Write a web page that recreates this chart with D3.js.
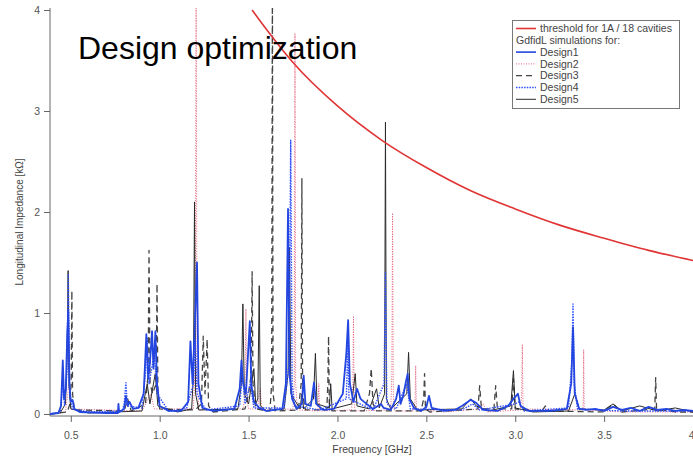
<!DOCTYPE html>
<html>
<head>
<meta charset="utf-8">
<script src="https://cdn.jsdelivr.net/npm/d3@7"></script>
<style>
  body { margin: 0; background: #fff; }
  svg { display: block; font-family: "Liberation Sans", Arial, sans-serif; }
</style>
</head>
<body>
<script>
// impedance spectra, [frequency GHz, impedance kOhm]
const design1 = [[0.383,0.0],[0.43,0.01],[0.445,0.08],[0.455,0.53],[0.462,0.15],[0.472,0.25],[0.48,0.8],[0.486,1.02],[0.492,0.3],[0.5,0.12],[0.51,0.14],[0.52,0.05],[0.55,0.02],[0.7,0.01],[0.765,0.01],[0.768,0.1],[0.772,0.02],[0.8,0.05],[0.81,0.18],[0.82,0.08],[0.83,0.12],[0.85,0.05],[0.88,0.06],[0.91,0.2],[0.925,0.79],[0.935,0.35],[0.945,0.5],[0.957,0.82],[0.965,0.45],[0.976,0.82],[0.985,0.3],[1.0,0.08],[1.05,0.03],[1.12,0.03],[1.16,0.12],[1.173,0.72],[1.185,0.3],[1.2,1.0],[1.21,1.5],[1.218,0.3],[1.24,0.06],[1.3,0.03],[1.42,0.05],[1.45,0.25],[1.46,0.53],[1.47,0.3],[1.485,0.2],[1.507,0.92],[1.515,0.3],[1.53,0.12],[1.56,0.06],[1.6,0.03],[1.69,0.05],[1.71,0.3],[1.722,2.03],[1.73,0.4],[1.745,0.15],[1.77,0.05],[1.8,0.1],[1.81,0.38],[1.82,0.1],[1.85,0.08],[1.868,0.31],[1.88,0.1],[1.92,0.04],[1.98,0.05],[2.03,0.2],[2.05,0.6],[2.06,0.93],[2.07,0.3],[2.09,0.12],[2.11,0.25],[2.13,0.15],[2.15,0.12],[2.2,0.05],[2.245,0.1],[2.26,0.06],[2.3,0.04],[2.33,0.15],[2.345,0.28],[2.355,0.1],[2.37,0.18],[2.385,0.32],[2.395,0.4],[2.405,0.15],[2.43,0.06],[2.47,0.03],[2.5,0.07],[2.515,0.18],[2.53,0.06],[2.6,0.03],[2.66,0.04],[2.7,0.08],[2.75,0.14],[2.78,0.11],[2.82,0.04],[2.9,0.03],[2.96,0.08],[2.99,0.15],[3.015,0.2],[3.03,0.08],[3.08,0.03],[3.2,0.03],[3.29,0.05],[3.315,0.3],[3.325,0.86],[3.335,0.2],[3.36,0.05],[3.4,0.04],[3.45,0.05],[3.5,0.03],[3.55,0.07],[3.6,0.04],[3.65,0.06],[3.7,0.03],[3.75,0.07],[3.8,0.04],[3.85,0.05],[3.9,0.03],[3.95,0.04],[4.0,0.03]];

const design2 = [[0.383,0.0],[0.47,0.02],[0.49,0.3],[0.5,0.05],[0.9,0.03],[0.95,0.2],[0.97,0.05],[1.19,0.05],[1.2,0.5],[1.205,4.3],[1.21,0.4],[1.22,0.04],[1.47,0.05],[1.48,0.2],[1.485,1.04],[1.49,0.15],[1.5,0.05],[1.55,0.05],[1.565,0.25],[1.575,0.04],[1.75,0.05],[1.757,0.3],[1.761,3.77],[1.765,0.3],[1.775,0.04],[1.89,0.03],[1.895,0.3],[1.9,0.03],[2.08,0.04],[2.087,0.3],[2.09,0.97],[2.094,0.1],[2.1,0.03],[2.3,0.04],[2.306,0.4],[2.31,1.99],[2.314,0.2],[2.32,0.03],[2.43,0.03],[2.437,0.15],[2.44,0.48],[2.444,0.05],[2.6,0.02],[2.8,0.05],[2.82,0.1],[2.84,0.02],[3.03,0.04],[3.036,0.2],[3.04,0.69],[3.044,0.05],[3.38,0.04],[3.383,0.15],[3.385,0.64],[3.388,0.04],[3.6,0.02],[4.0,0.02]];

const design3 = [[0.383,0.0],[0.48,0.02],[0.495,0.1],[0.502,0.3],[0.506,1.22],[0.51,0.2],[0.52,0.04],[0.8,0.03],[0.82,0.15],[0.84,0.03],[0.92,0.1],[0.935,0.4],[0.94,1.62],[0.946,0.3],[0.96,0.2],[0.98,0.3],[0.985,1.29],[0.99,0.2],[1.0,0.05],[1.2,0.04],[1.235,0.1],[1.245,0.77],[1.255,0.2],[1.267,0.74],[1.275,0.08],[1.3,0.02],[1.48,0.05],[1.5,0.2],[1.515,0.4],[1.52,1.41],[1.525,0.3],[1.54,0.05],[1.62,0.03],[1.63,0.3],[1.634,4.3],[1.638,0.2],[1.65,0.03],[1.78,0.04],[1.796,0.3],[1.8,2.33],[1.804,0.2],[1.82,0.04],[1.94,0.04],[1.946,0.3],[1.95,0.77],[1.954,0.1],[1.97,0.03],[2.15,0.03],[2.18,0.2],[2.19,0.45],[2.2,0.1],[2.22,0.03],[2.47,0.03],[2.485,0.15],[2.49,0.4],[2.495,0.05],[2.52,0.02],[2.79,0.05],[2.8,0.28],[2.81,0.05],[2.88,0.05],[2.89,0.28],[2.9,0.05],[2.98,0.05],[2.99,0.35],[3.0,0.05],[3.15,0.03],[3.17,0.08],[3.19,0.03],[3.5,0.02],[3.55,0.1],[3.6,0.02],[3.785,0.05],[3.79,0.36],[3.795,0.05],[3.9,0.02],[4.0,0.02]];

const design4 = [[0.383,0.0],[0.44,0.02],[0.455,0.3],[0.465,0.08],[0.478,0.4],[0.486,1.38],[0.494,0.2],[0.51,0.05],[0.6,0.02],[0.79,0.03],[0.8,0.1],[0.81,0.31],[0.818,0.08],[0.9,0.06],[0.92,0.4],[0.93,0.75],[0.94,0.3],[0.97,0.6],[0.985,0.2],[1.05,0.03],[1.15,0.05],[1.19,0.3],[1.2,0.74],[1.21,0.2],[1.26,0.04],[1.45,0.08],[1.465,0.4],[1.48,0.1],[1.51,0.3],[1.53,0.06],[1.7,0.06],[1.728,0.5],[1.737,2.71],[1.745,0.3],[1.76,0.08],[1.9,0.04],[2.05,0.15],[2.058,0.7],[2.065,0.15],[2.2,0.04],[2.262,0.3],[2.27,1.4],[2.278,0.1],[2.33,0.05],[2.39,0.3],[2.41,0.05],[2.7,0.04],[2.76,0.1],[2.8,0.04],[3.0,0.1],[3.02,0.12],[3.05,0.03],[3.3,0.06],[3.318,0.5],[3.325,1.09],[3.332,0.3],[3.35,0.05],[3.6,0.03],[4.0,0.03]];

const design5 = [[0.383,0.0],[0.44,0.01],[0.47,0.1],[0.48,0.6],[0.485,1.42],[0.49,0.3],[0.5,0.05],[0.6,0.01],[0.9,0.03],[0.93,0.3],[0.945,0.1],[0.975,0.4],[0.99,0.08],[1.1,0.02],[1.18,0.05],[1.19,0.4],[1.196,2.1],[1.202,0.2],[1.22,0.04],[1.44,0.05],[1.46,0.3],[1.468,1.09],[1.476,0.2],[1.5,0.1],[1.53,0.45],[1.54,0.1],[1.552,0.15],[1.56,1.27],[1.566,0.08],[1.6,0.03],[1.7,0.05],[1.722,0.4],[1.73,1.65],[1.738,0.2],[1.79,0.05],[1.8,0.2],[1.81,0.05],[1.865,0.15],[1.876,0.6],[1.885,0.1],[1.955,0.06],[1.962,0.3],[1.97,0.05],[2.08,0.1],[2.1,0.4],[2.11,0.08],[2.18,0.05],[2.22,0.25],[2.235,0.06],[2.265,0.2],[2.27,2.89],[2.275,0.15],[2.3,0.05],[2.39,0.2],[2.4,0.61],[2.41,0.15],[2.45,0.04],[2.7,0.05],[2.75,0.15],[2.78,0.08],[2.85,0.03],[2.975,0.08],[2.99,0.43],[3.0,0.06],[3.1,0.02],[3.3,0.03],[3.335,0.2],[3.36,0.05],[3.5,0.04],[3.55,0.1],[3.6,0.03],[3.7,0.08],[3.8,0.03],[3.9,0.06],[4.0,0.02]];

// threshold for 1A / 18 cavities
const thrFreq = [1.52, 1.6, 1.75, 2.0, 2.25, 2.5, 2.75, 3.0, 3.25, 3.5, 3.75, 4.0];
const thrZ = [4.0, 3.81, 3.48, 3.05, 2.71, 2.44, 2.21, 2.03, 1.87, 1.74, 1.62, 1.52];

const xTicks = [0.5, 1.0, 1.5, 2.0, 2.5, 3.0, 3.5, 4.0];
const xTickLabels = ["0.5", "1.0", "1.5", "2.0", "2.5", "3.0", "3.5", "4"];
const yTicks = [0, 1, 2, 3, 4];

const width = 693,
  height = 458;

const svg = d3
  .select("body")
  .append("svg")
  .attr("width", width)
  .attr("height", height)
  .attr("viewBox", [0, 0, width, height]);

const x = d3.scaleLinear().domain([0.383, 4.0]).range([50, 693]);
const y = d3.scaleLinear().domain([0, 4]).range([414, 10]);

svg
  .append("clipPath")
  .attr("id", "plot")
  .append("rect")
  .attr("x", 50)
  .attr("y", 8)
  .attr("width", width - 50)
  .attr("height", 408);

// axes
const xAxis = svg
  .append("g")
  .attr("transform", "translate(0,416)")
  .call(
    d3
      .axisBottom(x)
      .tickValues(xTicks)
      .tickFormat((d, i) => xTickLabels[i])
      .tickSize(6)
      .tickSizeOuter(0)
      .tickPadding(10)
  );

const yAxis = svg
  .append("g")
  .attr("transform", "translate(50,0)")
  .call(d3.axisLeft(y).tickValues(yTicks).tickFormat(d3.format("d")).tickSize(6).tickSizeOuter(0).tickPadding(4));

[xAxis, yAxis].forEach((g) => {
  g.select(".domain").attr("stroke", "#666");
  g.selectAll(".tick line").attr("stroke", "#666");
  g.selectAll(".tick text").attr("fill", "#555").style("font-size", "10.5px");
});
yAxis.select(".domain").attr("d", "M0,416V8");
xAxis.select(".domain").attr("d", "M50,0H693");
// last label sits against the right edge
xAxis.selectAll(".tick text").filter((d) => d === 4).attr("text-anchor", "end").attr("dx", 1);

svg
  .append("text")
  .attr("x", 372)
  .attr("y", 453)
  .attr("text-anchor", "middle")
  .attr("fill", "#444")
  .style("font-size", "10.5px")
  .text("Frequency [GHz]");

svg
  .append("text")
  .attr("transform", "translate(23,222) rotate(-90)")
  .attr("text-anchor", "middle")
  .attr("fill", "#444")
  .style("font-size", "10px")
  .text("Longitudinal Impedance [kΩ]");

// series
const line = d3
  .line()
  .x((d) => x(d[0]))
  .y((d) => y(d[1]));

const series = [
  { data: design2, color: "#e5607e", width: 1, dash: "1,1.5" },
  { data: design3, color: "#444", width: 1.3, dash: "6,4" },
  { data: design5, color: "#2a2a2a", width: 1, dash: null },
  { data: design4, color: "#2f4fff", width: 1.4, dash: "1.5,1.2" },
  { data: design1, color: "#2446e0", width: 1.8, dash: null },
];

const plot = svg.append("g").attr("clip-path", "url(#plot)");

plot
  .selectAll("path.series")
  .data(series)
  .join("path")
  .attr("class", "series")
  .attr("d", (d) => line(d.data))
  .attr("fill", "none")
  .attr("stroke", (d) => d.color)
  .attr("stroke-width", (d) => d.width)
  .attr("stroke-dasharray", (d) => d.dash)
  .attr("stroke-linejoin", "round");

const thrLine = d3
  .line()
  .curve(d3.curveMonotoneX)
  .x((d) => x(d))
  .y((d, i) => y(thrZ[i]));

plot
  .append("path")
  .attr("d", thrLine(thrFreq))
  .attr("fill", "none")
  .attr("stroke", "#e03535")
  .attr("stroke-width", 1.6);

// title
svg
  .append("text")
  .attr("x", 78)
  .attr("y", 59)
  .attr("fill", "#000")
  .style("font-size", "32px")
  .text("Design optimization");

// legend
const legendItems = [
  { label: "threshold for 1A / 18 cavities", color: "#e03535", width: 1.6, dash: null },
  { label: "GdfidL simulations for:", color: null },
  { label: "Design1", color: "#2446e0", width: 1.6, dash: null },
  { label: "Design2", color: "#e5607e", width: 1, dash: "1,1.5" },
  { label: "Design3", color: "#444", width: 1.2, dash: "6,4" },
  { label: "Design4", color: "#2f4fff", width: 1.4, dash: "1.5,1.2" },
  { label: "Design5", color: "#2a2a2a", width: 1, dash: null },
];

const legend = svg.append("g").attr("transform", "translate(512,20)");

legend
  .append("rect")
  .attr("x", 0.5)
  .attr("y", 0.5)
  .attr("width", 167)
  .attr("height", 88)
  .attr("fill", "#fff")
  .attr("stroke", "#777");

const row = legend
  .selectAll("g.row")
  .data(legendItems)
  .join("g")
  .attr("class", "row")
  .attr("transform", (d, i) => `translate(0,${8.5 + i * 11.8})`);

row
  .filter((d) => d.color)
  .append("line")
  .attr("x1", 4)
  .attr("x2", 24)
  .attr("stroke", (d) => d.color)
  .attr("stroke-width", (d) => d.width)
  .attr("stroke-dasharray", (d) => d.dash);

row
  .append("text")
  .attr("x", (d) => (d.color ? 28 : 4))
  .attr("dy", "0.35em")
  .attr("fill", "#444")
  .style("font-size", "10.5px")
  .text((d) => d.label);
</script>
</body>
</html>
